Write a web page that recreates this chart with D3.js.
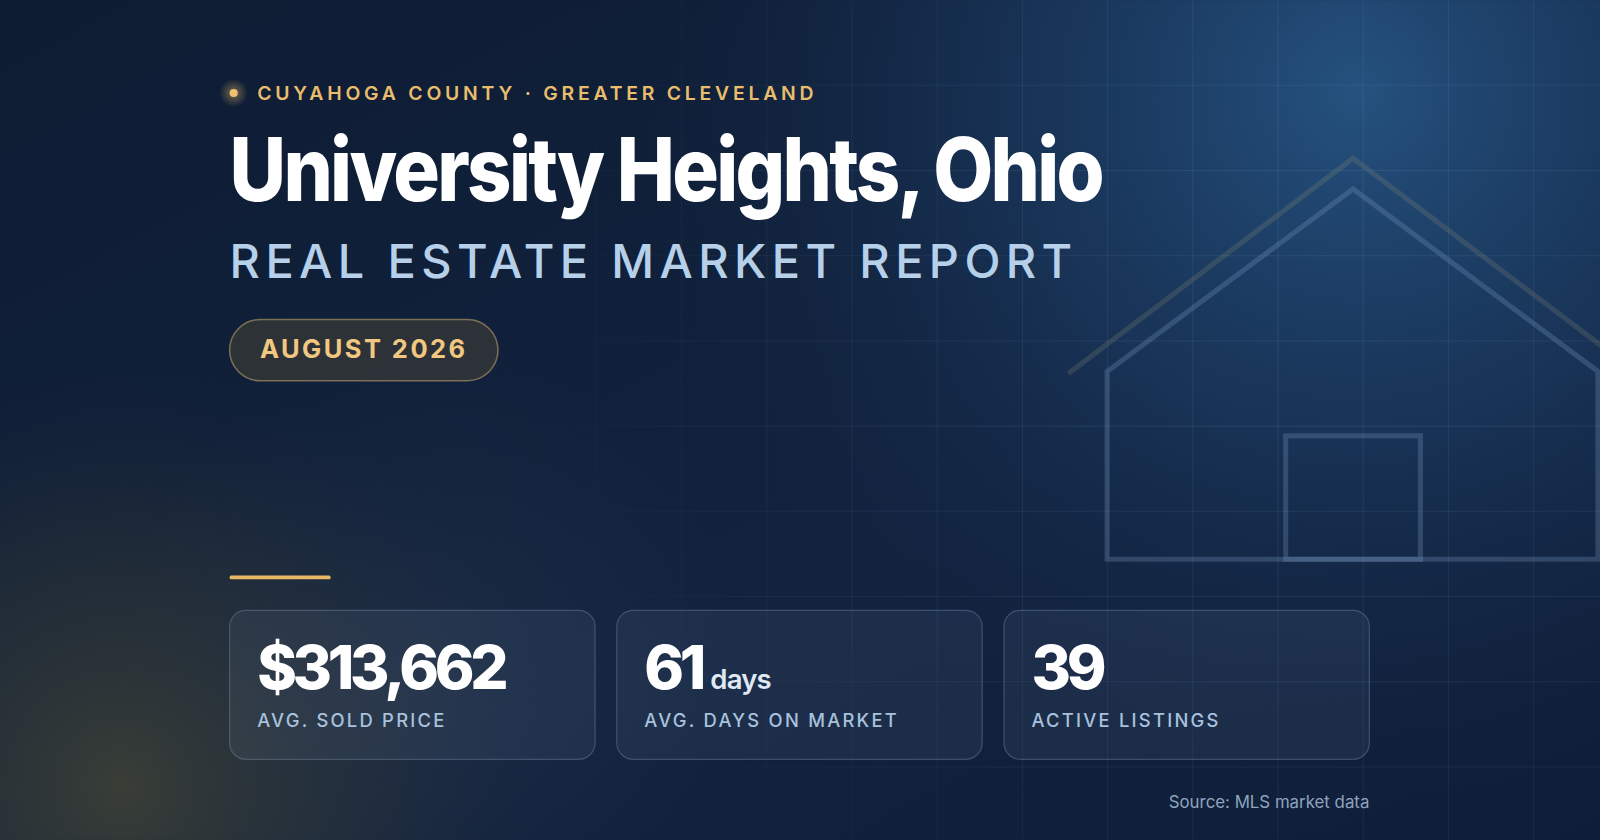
<!DOCTYPE html>
<html><head><meta charset="utf-8">
<script src="https://cdn.jsdelivr.net/npm/d3@7"></script>
<style>html,body{margin:0;padding:0;background:#0f1d35;overflow:hidden}</style>
</head><body>
<script>
const eyebrow = "CUYAHOGA COUNTY · GREATER CLEVELAND";
const title = "University Heights, Ohio";
const subtitle = "REAL ESTATE MARKET REPORT";
const period = "AUGUST 2026";
const statValues = ["$313,662", "61", "39"];
const statUnits = ["", "days", ""];
const statLabels = ["AVG. SOLD PRICE", "AVG. DAYS ON MARKET", "ACTIVE LISTINGS"];
const source = "Source: MLS market data";

const W = 1568, H = 823;
const svg = d3.select("body").append("svg")
  .attr("width", 1600).attr("height", 840)
  .attr("viewBox", `0 0 ${W} ${H}`);
const defs = svg.append("defs");
const F = "Inter, 'Noto Sans', sans-serif";

function radial(id, cx, cy, r, stops) {
  const g = defs.append("radialGradient").attr("id", id).attr("gradientUnits", "userSpaceOnUse")
    .attr("cx", cx).attr("cy", cy).attr("r", r);
  stops.forEach(s => g.append("stop").attr("offset", s[0]).attr("stop-color", s[1]).attr("stop-opacity", s[2]));
}
const lin = defs.append("linearGradient").attr("id", "base").attr("x1", 0).attr("y1", 0).attr("x2", 1).attr("y2", 1);
lin.append("stop").attr("offset", 0).attr("stop-color", "#0e1c33");
lin.append("stop").attr("offset", 0.6).attr("stop-color", "#12233f");
lin.append("stop").attr("offset", 1).attr("stop-color", "#0f1e38");
radial("blue", 1330, 90, 720, [[0, "#25527f", 1], [0.5, "#1b3b62", 0.6], [1, "#12233f", 0]]);
radial("warm", 120, 770, 420, [[0, "#3b3f36", 0.95], [0.6, "#2a3236", 0.5], [1, "#16243a", 0]]);
radial("mid", 420, 640, 300, [[0, "#2b3a4e", 0.35], [1, "#2b3a4e", 0]]);
radial("gm", 1300, 300, 800, [[0, "#fff", 1], [0.7, "#fff", 0.6], [1, "#fff", 0]]);
radial("glow", 229, 91, 14, [[0, "#f0c070", 0.45], [1, "#f0c070", 0]]);
defs.append("mask").attr("id", "gridMask").append("rect").attr("width", W).attr("height", H).attr("fill", "url(#gm)");

svg.append("rect").attr("width", W).attr("height", H).attr("fill", "url(#base)");
svg.append("rect").attr("width", W).attr("height", H).attr("fill", "url(#blue)");
svg.append("rect").attr("width", W).attr("height", H).attr("fill", "url(#warm)");
svg.append("rect").attr("width", W).attr("height", H).attr("fill", "url(#mid)");

// grid
const step = 83.5;
const grid = svg.append("g").attr("mask", "url(#gridMask)").attr("stroke", "rgba(140,175,215,0.13)").attr("stroke-width", 1);
grid.selectAll("line.v").data(d3.range(1, Math.ceil(W / step))).join("line")
  .attr("x1", d => d * step).attr("x2", d => d * step).attr("y1", 0).attr("y2", H);
grid.selectAll("line.h").data(d3.range(1, Math.ceil(H / step))).join("line")
  .attr("x1", 0).attr("x2", W).attr("y1", d => d * step).attr("y2", d => d * step);

// house
const house = svg.append("g").attr("fill", "none").attr("stroke-width", 5);
house.append("path").attr("d", "M1047,366 L1326,155 L1600,362").attr("stroke", "rgba(150,145,120,0.22)");
house.append("path").attr("d", "M1085,548 L1085,364 L1326,185 L1566,364 L1566,548 Z").attr("stroke", "rgba(120,150,190,0.3)");
house.append("rect").attr("x", 1260).attr("y", 427).attr("width", 132).attr("height", 121).attr("stroke", "rgba(120,150,190,0.3)");

// header
svg.append("circle").attr("cx", 229).attr("cy", 91).attr("r", 14).attr("fill", "url(#glow)");
svg.append("circle").attr("cx", 229).attr("cy", 91).attr("r", 4).attr("fill", "#f0c070");
svg.append("text").attr("x", 252).attr("y", 98).text(eyebrow)
  .attr("font-family", F).attr("font-size", 19).attr("font-weight", 600).attr("letter-spacing", 3.7).attr("fill", "#e9bd6c");
svg.append("text").attr("x", 225).attr("y", 197).text(title)
  .attr("font-family", F).attr("font-size", 86).attr("font-weight", 800).attr("letter-spacing", -3)
  .attr("textLength", 855).attr("lengthAdjust", "spacingAndGlyphs").attr("fill", "#ffffff");
svg.append("text").attr("x", 225).attr("y", 272).text(subtitle)
  .attr("font-family", F).attr("font-size", 46).attr("font-weight", 500).attr("letter-spacing", 5.3).attr("fill", "#b7d0ea");
svg.append("rect").attr("x", 225).attr("y", 313).attr("width", 263).attr("height", 60).attr("rx", 30)
  .attr("fill", "rgba(70,65,55,0.55)").attr("stroke", "rgba(200,170,110,0.55)").attr("stroke-width", 1.5);
svg.append("text").attr("x", 356.5).attr("y", 351).attr("text-anchor", "middle").text(period)
  .attr("font-family", F).attr("font-size", 25).attr("font-weight", 700).attr("letter-spacing", 2.4).attr("fill", "#f2c880");

svg.append("rect").attr("x", 225).attr("y", 564).attr("width", 99).attr("height", 3.5).attr("rx", 1.5).attr("fill", "#e9b864");

// cards
const x = d3.scaleBand().domain(d3.range(statValues.length)).range([225, 1342]).paddingInner(0.056);
const cards = svg.selectAll("g.card").data(statValues).join("g").attr("transform", (d, i) => `translate(${x(i)},598)`);
cards.append("rect").attr("width", x.bandwidth()).attr("height", 146).attr("rx", 16)
  .attr("fill", "rgba(140,165,200,0.09)").attr("stroke", "rgba(160,185,215,0.28)").attr("stroke-width", 1.2);
const num = cards.append("text").attr("x", 27).attr("y", 77).attr("font-family", F).attr("fill", "#fff");
num.append("tspan").text(d => d).attr("font-size", 59).attr("font-weight", 800).attr("letter-spacing", -4.2);
num.append("tspan").text((d, i) => statUnits[i]).attr("dx", 8).attr("font-size", 27).attr("font-weight", 600).attr("letter-spacing", -0.8).attr("fill", "#dfe8f3");
cards.append("text").attr("x", 27).attr("y", 114).text((d, i) => statLabels[i])
  .attr("font-family", F).attr("font-size", 18).attr("font-weight", 500).attr("letter-spacing", 2.2).attr("fill", "#a8c2de");

svg.append("text").attr("x", 1342).attr("y", 792).attr("text-anchor", "end").text(source)
  .attr("font-family", F).attr("font-size", 16.5).attr("fill", "#8ea4bf");
</script>
</body></html>
